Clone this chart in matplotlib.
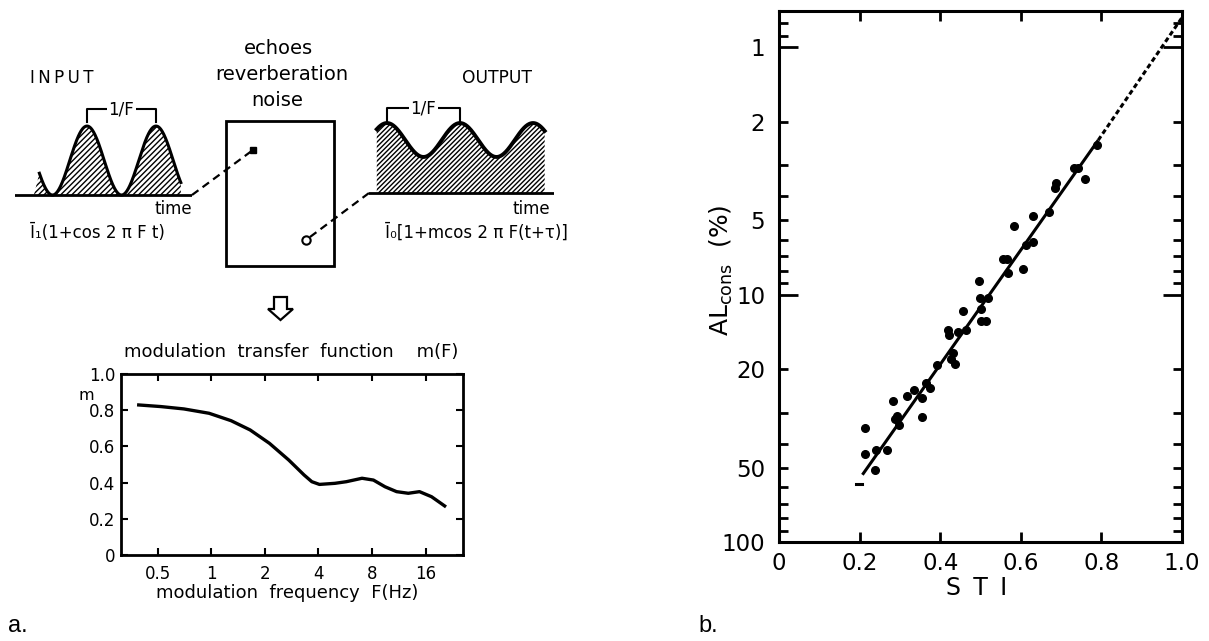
import numpy as np
import matplotlib
matplotlib.use("Agg")
import matplotlib.pyplot as plt
from matplotlib import ticker
from matplotlib.patches import Rectangle, Polygon

plt.rcParams['font.family'] = ['DejaVu Sans']
plt.rcParams['hatch.linewidth'] = 1.0

# ---------------- data: panel a ----------------
mtf_freq = [0.39, 0.52, 0.70, 0.97, 1.29, 1.65, 2.12, 2.72, 3.32, 3.67, 4.05,
            4.95, 5.74, 7.03, 8.15, 9.47, 11.0, 12.8, 14.8, 17.3, 20.5]
mtf_m = [0.829, 0.820, 0.807, 0.783, 0.742, 0.691, 0.617, 0.525, 0.442, 0.405, 0.390,
         0.396, 0.405, 0.424, 0.414, 0.377, 0.350, 0.341, 0.350, 0.322, 0.271]
mtf_xticks = [0.5, 1, 2, 4, 8, 16]
mtf_xticklabels = ['0.5', '1', '2', '4', '8', '16']
mtf_yticks = [0, 0.2, 0.4, 0.6, 0.8, 1.0]
mtf_yticklabels = ['0', '0.2', '0.4', '0.6', '0.8', '1.0']

# schematic input / output signals (modulation depth, shown periods)
input_mod = 1.0
output_mod = 0.32
input_t_span = (-0.69, 1.36)
input_t_edge = -0.77
output_t_span = (-1.14, 1.16)

# ---------------- data: panel b ----------------
sti = [0.213, 0.213, 0.238, 0.240, 0.269, 0.283, 0.287, 0.292, 0.298, 0.318,
       0.336, 0.354, 0.356, 0.366, 0.374, 0.393, 0.419, 0.421, 0.428, 0.432,
       0.436, 0.445, 0.457, 0.463, 0.497, 0.498, 0.501, 0.502, 0.513, 0.519,
       0.555, 0.566, 0.569, 0.583, 0.606, 0.614, 0.631, 0.631, 0.670, 0.684,
       0.687, 0.731, 0.742, 0.759, 0.788]
alcons = [34.5, 44.3, 51.0, 42.5, 42.6, 27.0, 31.8, 31.1, 33.6, 25.6,
          24.3, 26.2, 31.2, 22.7, 23.9, 19.2, 13.9, 14.6, 18.3, 17.2,
          19.0, 14.2, 11.7, 13.9, 8.8, 10.3, 11.4, 12.8, 12.8, 10.3,
          7.2, 7.2, 8.2, 5.3, 7.9, 6.3, 6.15, 4.8, 4.66, 3.71,
          3.53, 3.07, 3.09, 3.41, 2.49]
fit_sti = [0.207, 0.792]
fit_al = [53.5, 2.38]
ext_sti = [0.792, 1.0]
ext_al = [2.38, 0.76]
low_sti = [0.190, 0.205]
low_al = [58.5, 58.5]
sti_ticks = [0, 0.2, 0.4, 0.6, 0.8, 1.0]
sti_ticklabels = ['0', '0.2', '0.4', '0.6', '0.8', '1.0']
al_major = [1, 10]
al_minor = [0.8, 0.9, 2, 3, 4, 5, 6, 7, 8, 9, 20, 30, 40, 50, 60, 70, 80, 90, 100]
al_labels = {1: '1', 2: '2', 5: '5', 10: '10', 20: '20', 50: '50', 100: '100'}

W, H = 1209, 641
fig = plt.figure(figsize=(W / 100, H / 100), dpi=100)


def frac(x0, y0, x1, y1):
    return [x0 / W, 1 - y1 / H, (x1 - x0) / W, (y1 - y0) / H]


# overlay for schematic annotations (pixel coordinates)
ax0 = fig.add_axes([0, 0, 1, 1])
ax0.set_xlim(0, W)
ax0.set_ylim(H, 0)
ax0.axis('off')

ts = '\u2009'
ax0.text(278, 49, 'echoes', ha='center', va='center', fontsize=14)
ax0.text(282, 74, 'reverberation', ha='center', va='center', fontsize=14)
ax0.text(277, 101, 'noise', ha='center', va='center', fontsize=14)
ax0.text(30, 78, ts.join('INPUT'), ha='left', va='center', fontsize=12)
ax0.text(462, 78, 'OUTPUT', ha='left', va='center', fontsize=12.3)
ax0.text(173, 209, 'time', ha='center', va='center', fontsize=12)
ax0.text(531, 209, 'time', ha='center', va='center', fontsize=12)
ax0.text(30, 233, 'Ī\u2081(1+cos 2 π F t)', ha='left', va='center', fontsize=12)
ax0.text(385, 233, 'Ī\u2080[1+mcos 2 π F(t+τ)]', ha='left', va='center', fontsize=12)

ax0.add_patch(Rectangle((226, 121), 108, 145, fill=False, lw=2, ec='black'))
ax0.plot([192, 253], [195, 150], color='black', lw=1.6, ls=(0, (3.6, 2.3)))
ax0.plot([253], [150], marker='s', ms=5, color='black')
ax0.plot([310, 369], [237, 193], color='black', lw=1.6, ls=(0, (3.6, 2.3)))
ax0.plot([306], [240], marker='o', ms=6, mfc='white', mec='black', mew=1.5)

arrow = [(274, 297), (287, 297), (287, 309), (293, 309), (280.5, 320),
         (268, 309), (274, 309)]
ax0.add_patch(Polygon(arrow, closed=True, fc='white', ec='black', lw=1.6))

ax0.text(291, 352, 'modulation  transfer  function    m(F)', ha='center',
         va='center', fontsize=13)
ax0.text(86, 395, 'm', ha='center', va='center', fontsize=11.5)
ax0.text(287, 593, 'modulation  frequency  F(Hz)', ha='center', va='center',
         fontsize=13)
ax0.text(8, 626, 'a.', ha='left', va='center', fontsize=17, family='Liberation Sans')
ax0.text(698, 626, 'b.', ha='left', va='center', fontsize=17, family='Liberation Sans')

# ---------- input waveform ----------
axi = fig.add_axes(frac(15, 105, 192, 205.4))
axi.set_xlim((15 - 87) / 69, (192 - 87) / 69)
axi.set_ylim(-0.3, 2.61)
axi.axis('off')
ti = np.linspace(input_t_span[0], input_t_span[1], 400)
yi = 1 + input_mod * np.cos(2 * np.pi * ti)
ti_f = np.concatenate([[input_t_edge], ti])
yi_f = np.concatenate([[0.0], yi])
axi.fill_between(ti_f, 0, yi_f, facecolor='white', edgecolor='black', hatch='//////', lw=0)
axi.plot(ti, yi, color='black', lw=2.2)
axi.axhline(0, color='black', lw=2)
axi.plot([0, 0, 1, 1], [2.12, 2.49, 2.49, 2.12], color='black', lw=1.5)
axi.text(0.5, 2.49, '1/F', ha='center', va='center', fontsize=12,
         bbox=dict(fc='white', ec='none', pad=1))

# ---------- output waveform ----------
axo = fig.add_axes(frac(369, 100, 554, 203.6))
axo.set_xlim((369 - 460) / 73, (554 - 460) / 73)
axo.set_ylim(-0.2, 1.755)
axo.axis('off')
to = np.linspace(output_t_span[0], output_t_span[1], 400)
yo = 1 + output_mod * np.cos(2 * np.pi * to)
axo.fill_between(to, 0, yo, facecolor='white', edgecolor='black', hatch='///////', lw=0)
axo.plot(to, yo, color='black', lw=2.8)
axo.axhline(0, color='black', lw=2)
axo.plot([-1, -1, 0, 0], [1.34, 1.604, 1.604, 1.34], color='black', lw=1.5)
axo.text(-0.5, 1.604, '1/F', ha='center', va='center', fontsize=12,
         bbox=dict(fc='white', ec='none', pad=1))

# ---------- MTF plot ----------
axm = fig.add_axes(frac(121, 374, 463, 555))
axm.plot(mtf_freq, mtf_m, color='black', lw=2.4, solid_joinstyle='round')
axm.set_xscale('log', base=2)
axm.set_xlim(0.31, 26)
axm.set_ylim(0, 1.0)
axm.xaxis.set_major_locator(ticker.FixedLocator(mtf_xticks))
axm.xaxis.set_major_formatter(ticker.FixedFormatter(mtf_xticklabels))
axm.xaxis.set_minor_locator(ticker.NullLocator())
axm.yaxis.set_major_locator(ticker.FixedLocator(mtf_yticks))
axm.yaxis.set_major_formatter(ticker.FixedFormatter(mtf_yticklabels))
axm.tick_params(direction='in', top=True, right=True, length=5, width=1.5,
                labelsize=12)
axm.tick_params(axis='x', pad=7)
axm.tick_params(axis='y', pad=4)
for s in axm.spines.values():
    s.set_linewidth(2)

# ---------- STI vs ALcons ----------
axr = fig.add_axes(frac(779, 11, 1182, 542))
axr.plot(sti, alcons, 'o', color='black', ms=5.5)
axr.plot(fit_sti, fit_al, color='black', lw=2.2, solid_capstyle='butt')
axr.plot(ext_sti, ext_al, color='black', lw=2.2, ls=(0, (1.6, 1.0)))
axr.plot(low_sti, low_al, color='black', lw=2.2)
axr.set_yscale('log')
axr.set_xlim(0, 1)
axr.set_ylim(100, 0.715)
axr.xaxis.set_major_locator(ticker.FixedLocator(sti_ticks))
axr.xaxis.set_major_formatter(ticker.FixedFormatter(sti_ticklabels))
axr.yaxis.set_major_locator(ticker.FixedLocator(al_major))
axr.yaxis.set_minor_locator(ticker.FixedLocator(al_minor))
fmt = ticker.FuncFormatter(lambda v, p: al_labels.get(round(v, 3) if v < 1 else int(round(v)), ''))
axr.yaxis.set_major_formatter(fmt)
axr.yaxis.set_minor_formatter(fmt)
axr.tick_params(axis='x', direction='in', top=True, length=7, width=2,
                labelsize=16.5, pad=7)
axr.tick_params(axis='y', which='major', direction='in', left=True, right=True,
                length=14, width=2, labelsize=16.5, pad=10)
axr.tick_params(axis='y', which='minor', direction='in', left=True, right=True,
                length=6.5, width=2, labelsize=16.5, pad=10)
for s in axr.spines.values():
    s.set_linewidth(2.2)
axr.text(0.49, -0.087, 'S' + ts + ' T ' + ts + 'I', transform=axr.transAxes, ha='center',
         va='center', fontsize=17)
axr.text(-0.144, 0.512, r'AL$_{\rm cons}$  (%)', transform=axr.transAxes,
         ha='center', va='center', rotation=90, fontsize=18)

fig.savefig('out.png', dpi=100, facecolor='white')
